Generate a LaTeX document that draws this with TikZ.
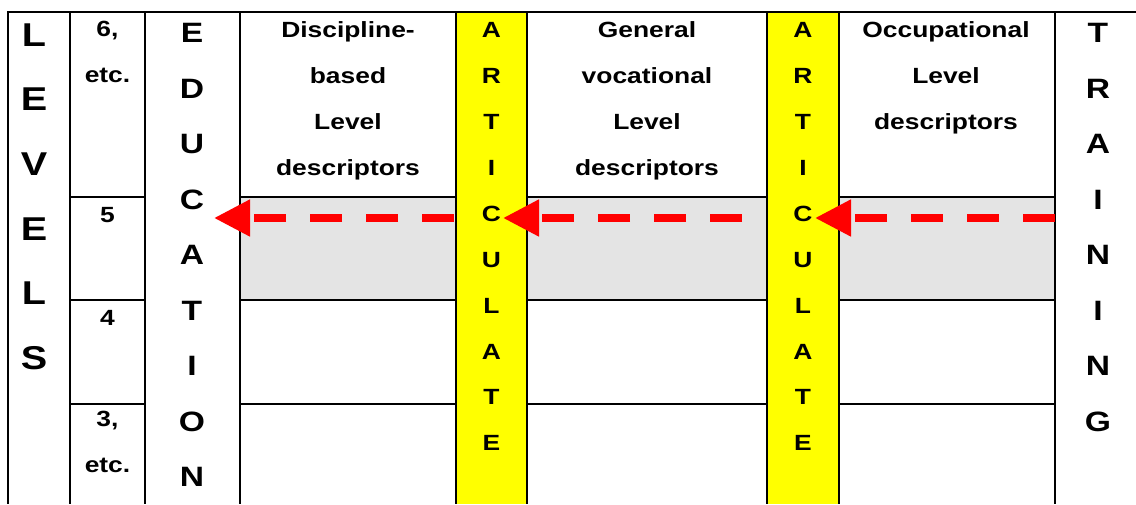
\documentclass[tikz,border=0pt]{standalone}
\usepackage{fontspec}
\setmainfont{Liberation Sans}[FakeStretch=1.2]
\usetikzlibrary{arrows.meta}
\definecolor{bandgray}{RGB}{228,228,228}
\definecolor{artyellow}{RGB}{255,255,0}
\definecolor{arrowred}{RGB}{255,0,0}
\begin{document}
\begin{tikzpicture}[x=1pt,y=-1pt,
  gridline/.style={line width=2pt, black},
  lab/.style={inner sep=0pt, anchor=base, align=center},
  bigstack/.style={lab, font=\fontsize{33}{64.7}\selectfont\bfseries},
  midstack/.style={lab, font=\fontsize{28}{55.5}\selectfont\bfseries},
  headtext/.style={lab, font=\fontsize{22}{46}\selectfont\bfseries},
  arttext/.style={lab, font=\fontsize{22}{45.9}\selectfont\bfseries},
  numtext/.style={lab, font=\fontsize{22}{45.5}\selectfont\bfseries},
  redarrow/.style={draw=arrowred, line width=8pt, dash pattern=on 32pt off 24pt,
    -{Triangle[length=36pt,width=35pt,fill=arrowred]}}
]
\useasboundingbox (0,0) rectangle (1136,504);
% fills
\fill[bandgray] (240,197) rectangle (1055,300);
\fill[artyellow] (456,12) rectangle (527,504);
\fill[artyellow] (767,12) rectangle (839,504);
% grid
\draw[gridline] (7,12) -- (1136,12);
\foreach \x in {8,70,145,240,456,527,767,839,1055}
  \draw[gridline] (\x,12) -- (\x,504);
\foreach \y in {197,300,404} {
  \draw[gridline] (70,\y) -- (145,\y);
  \draw[gridline] (240,\y) -- (456,\y);
  \draw[gridline] (527,\y) -- (767,\y);
  \draw[gridline] (839,\y) -- (1055,\y);
}
% texts (anchor = baseline of the last line)
\node[bigstack] (levels) at (34,369.5) {L\\E\\V\\E\\L\\S};
\node[numtext] (n6) at (107.5,82.3) {6,\\etc.};
\node[numtext] (n5) at (107.5,222) {5};
\node[numtext] (n4) at (107.5,325.5) {4};
\node[numtext] (n3) at (107.5,472) {3,\\etc.};
\node[midstack] (education) at (192,486.7) {E\\D\\U\\C\\A\\T\\I\\O\\N};
\node[headtext] (disc) at (348,175.5) {Discipline-\\based\\Level\\descriptors};
\node[arttext] (art1) at (491.5,450.8) {A\\R\\T\\I\\C\\U\\L\\A\\T\\E};
\node[headtext] (genv) at (647,175.5) {General\\vocational\\Level\\descriptors};
\node[arttext] (art2) at (803,450.8) {A\\R\\T\\I\\C\\U\\L\\A\\T\\E};
\node[headtext] (occ) at (946,129.5) {Occupational\\Level\\descriptors};
\node[midstack] (training) at (1098,431) {T\\R\\A\\I\\N\\I\\N\\G};
% arrows
\coordinate (a1s) at (454,218); \coordinate (a1e) at (214,218);
\coordinate (a2s) at (742,218); \coordinate (a2e) at (503,218);
\coordinate (a3s) at (1055,218); \coordinate (a3e) at (815,218);
\draw[redarrow] (a1s) -- (a1e);
\draw[redarrow] (a2s) -- (a2e);
\draw[redarrow] (a3s) -- (a3e);
\end{tikzpicture}
\end{document}
